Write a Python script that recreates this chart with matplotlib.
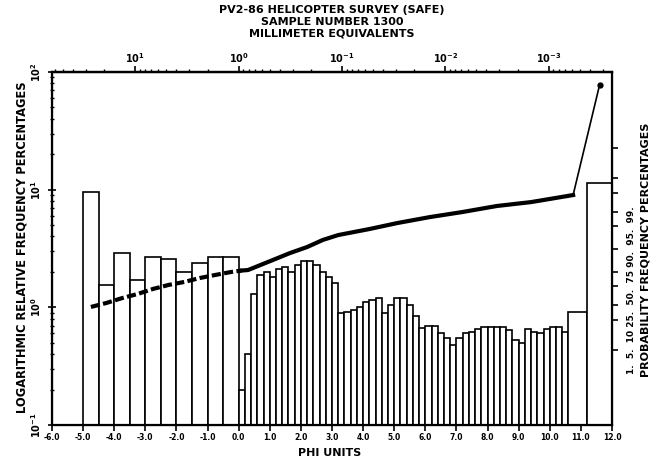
import numpy as np
import matplotlib
matplotlib.use("Agg")
import matplotlib.pyplot as plt
from matplotlib.ticker import FixedLocator, FixedFormatter, NullFormatter
from statistics import NormalDist

# ---- data ----
wide_left = [-5.0, -4.5, -4.0, -3.5, -3.0, -2.5, -2.0, -1.5, -1.0, -0.5]
wide_width = 0.5
wide_pct = [9.5, 1.55, 2.9, 1.7, 2.7, 2.6, 2.0, 2.4, 2.7, 2.7]

narrow_start = 0.0
narrow_width = 0.2
narrow_pct = [0.2, 0.4, 1.3, 1.9, 2.0, 1.8, 2.1, 2.2, 2.0, 2.3,
              2.5, 2.5, 2.3, 2.0, 1.8, 1.6, 0.9, 0.92, 0.95, 1.0,
              1.1, 1.15, 1.2, 0.89, 1.05, 1.2, 1.2, 1.05, 0.85, 0.67,
              0.7, 0.7, 0.6, 0.55, 0.48, 0.55, 0.6, 0.62, 0.66, 0.68,
              0.68, 0.68, 0.68, 0.64, 0.53, 0.5, 0.66, 0.62, 0.6, 0.65,
              0.68, 0.68, 0.62]

tail_left = [10.6, 11.2]
tail_width = [0.6, 0.8]
tail_pct = [0.91, 11.4]

# cumulative curve (probability %)
cum_phi = [-4.75, -4.25, -3.75, -3.25, -2.75, -2.25, -1.75, -1.25, -0.75, -0.25,
           0.1, 0.3, 0.7, 1.1, 1.65, 2.2, 2.7, 3.2, 4.2, 5.1, 6.15, 7.2, 8.3,
           9.4, 10.4, 10.75, 11.6]
cum_pct = [9.1, 10.7, 12.9, 15.0, 17.9, 20.4, 22.4, 25.2, 27.5, 29.8,
           31.0, 31.4, 35.6, 40.0, 46.3, 51.8, 58.2, 62.6, 67.7, 72.5, 76.9, 80.3, 83.9,
           86.0, 88.5, 89.3, 99.992]

phi_ticks = list(range(-6, 13))
mm_ticks = [10, 1, 0.1, 0.01, 0.001]
mm_labels = [r"$10^{1}$", r"$10^{0}$", r"$10^{-1}$", r"$10^{-2}$", r"$10^{-3}$"]
log_ticks = [0.1, 1, 10, 100]
log_labels = [r"$10^{-1}$", r"$10^{0}$", r"$10^{1}$", r"$10^{2}$"]
prob_ticks = [1, 5, 10, 20, 30, 50, 70, 80, 90, 95, 99]

plt.rcParams['font.family'] = ['DejaVu Sans']
plt.rcParams['font.weight'] = 'bold'

fig = plt.figure(figsize=(6.63, 4.65), dpi=100)
ax = fig.add_axes([52 / 663, 1 - 425 / 465, 560 / 663, 353 / 465])

bar_kw = dict(align='edge', facecolor='white', edgecolor='black', linewidth=1.2)
ax.bar(wide_left, wide_pct, width=wide_width, **bar_kw)
narrow_left = narrow_start + narrow_width * np.arange(len(narrow_pct))
ax.bar(narrow_left, narrow_pct, width=narrow_width, **bar_kw)
ax.bar(tail_left, tail_pct, width=tail_width, **bar_kw)

ax.set_yscale('log')
ax.set_ylim(0.1, 100)
ax.set_xlim(-6, 12)
ax.yaxis.set_major_locator(FixedLocator(log_ticks))
ax.yaxis.set_major_formatter(FixedFormatter(log_labels))
ax.yaxis.set_minor_formatter(NullFormatter())
for t in ax.get_yticklabels():
    t.set_rotation(90)
    t.set_va('center')
ax.tick_params(axis='y', which='major', direction='inout', length=6, width=1.2, labelsize=7)
ax.tick_params(axis='y', which='minor', direction='inout', length=3, width=1)
ax.xaxis.set_major_locator(FixedLocator(phi_ticks))
ax.xaxis.set_major_formatter(FixedFormatter([f"{v:.1f}" for v in phi_ticks]))
ax.tick_params(axis='x', which='major', direction='out', length=4, width=1.2,
               labelsize=5.5, pad=2)
for s in ax.spines.values():
    s.set_linewidth(1.6)

# probability axis on the right
nd = NormalDist()


def prob_fwd(p):
    p = np.clip(np.asarray(p, dtype=float) / 100.0, 1e-12, 1 - 1e-12)
    return np.vectorize(nd.inv_cdf, otypes=[float])(p)


def prob_inv(z):
    return np.vectorize(nd.cdf, otypes=[float])(np.asarray(z, dtype=float)) * 100.0


ax2 = ax.twinx()
ax2.set_yscale('function', functions=(prob_fwd, prob_inv))
ax2.set_ylim(prob_inv(-4.053), prob_inv(4.076))
ax2.yaxis.set_major_locator(FixedLocator(prob_ticks))
ax2.yaxis.set_major_formatter(NullFormatter())
ax2.yaxis.set_minor_locator(FixedLocator([]))
ax2.tick_params(axis='y', direction='out', length=4, width=1.2)

cum_phi = np.array(cum_phi)
cum_pct = np.array(cum_pct)
left = cum_phi <= 0.1
ax2.plot(cum_phi[left], cum_pct[left], color='black', lw=3, ls=(0, (2.2, 0.8)),
         solid_capstyle='butt')
mid = (cum_phi >= 0.1) & (cum_phi <= 10.75)
ax2.plot(cum_phi[mid], cum_pct[mid], color='black', lw=3)
ax2.plot(cum_phi[-2:], cum_pct[-2:], color='black', lw=1.2)
ax2.plot(cum_phi[-1:], cum_pct[-1:], 'o', color='black', ms=3.5)

# millimetre axis on top
secax = ax.secondary_xaxis('top', functions=(lambda phi: 2.0 ** (-np.asarray(phi, float)),
                                             lambda mm: -np.log2(np.clip(mm, 1e-12, None))))
secax.xaxis.set_major_locator(FixedLocator(mm_ticks))
secax.xaxis.set_major_formatter(FixedFormatter(mm_labels))
secax.xaxis.set_minor_locator(FixedLocator([k * 10.0 ** e for e in range(-4, 2) for k in range(2, 10)]))
secax.xaxis.set_minor_formatter(NullFormatter())
secax.tick_params(axis='x', which='major', direction='out', length=4, width=1.2, labelsize=7, pad=1)
secax.tick_params(axis='x', which='minor', direction='out', length=2.5, width=1)
secax.spines['top'].set_linewidth(1.6)

# texts
fig.text(332 / 663, 1 - 10 / 465, "PV2-86 HELICOPTER SURVEY (SAFE)", ha='center', va='center',
         fontsize=8, fontweight='bold')
fig.text(332 / 663, 1 - 22 / 465, "SAMPLE NUMBER 1300", ha='center', va='center',
         fontsize=8, fontweight='bold')
fig.text(332 / 663, 1 - 34 / 465, "MILLIMETER EQUIVALENTS", ha='center', va='center',
         fontsize=8, fontweight='bold')
fig.text(330 / 663, 1 - 453 / 465, "PHI UNITS", ha='center', va='center',
         fontsize=8, fontweight='bold')
fig.text(22 / 663, 1 - 247 / 465, "LOGARITHMIC RELATIVE FREQUENCY PERCENTAGES", rotation=90,
         ha='center', va='center', fontsize=8.3, fontweight='bold')
fig.text(632 / 663, 1 - 290 / 465, "1.  5.  10 25.  50.  75 90.  95.  99.", rotation=90,
         ha='center', va='center', fontsize=6.5, fontweight='bold')
fig.text(646 / 663, 1 - 250 / 465, "PROBABILITY FREQUENCY PERCENTAGES", rotation=90,
         ha='center', va='center', fontsize=8, fontweight='bold')

fig.savefig("out.png", dpi=100)
